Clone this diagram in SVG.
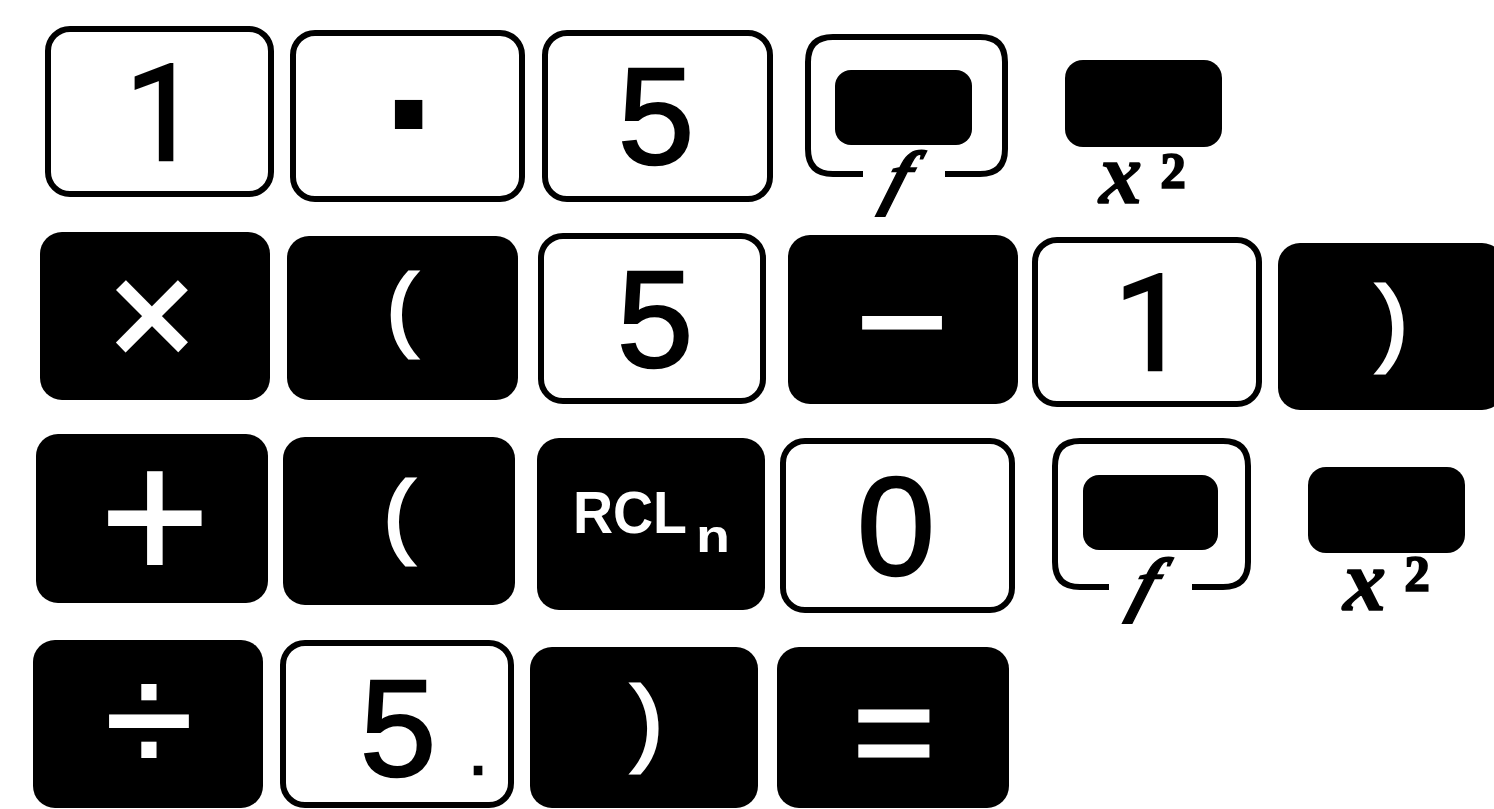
<svg xmlns="http://www.w3.org/2000/svg" width="1494" height="809" viewBox="0 0 1494 809">
<style>
.ok{fill:#fff;stroke:#000;stroke-width:6}
.bk{fill:#000}
.fr{fill:none;stroke:#000;stroke-width:6;stroke-linecap:butt}
.dg{font-family:"Liberation Sans",Arial,sans-serif;font-size:137px;fill:#000;stroke:#000;stroke-width:2.5;text-anchor:middle}
.one{font-family:Roboto,"Liberation Sans",sans-serif;font-size:133px}
.ws{font-family:"Liberation Sans",Arial,sans-serif;fill:#fff;stroke:#fff;stroke-width:2;text-anchor:middle}
.rcl{font-family:"Liberation Sans",Arial,sans-serif;font-weight:bold;fill:#fff}
.fl{font-family:"Liberation Serif","Times New Roman",serif;font-weight:bold;font-style:italic;font-size:72px;fill:#000;stroke:#000;stroke-width:1.5;text-anchor:middle}
.xl{font-family:"Liberation Serif","Times New Roman",serif;font-weight:bold;font-style:italic;font-size:86px;fill:#000;stroke:#000;stroke-width:1.5}
.sup{font-size:86px;font-style:normal}
</style>
<rect width="1494" height="809" fill="#fff"/>

<!-- Row 1 -->
<g id="key-1">
<rect class="ok" x="48" y="29" width="223" height="165" rx="22"/>
<text class="dg one" x="162" y="160">1</text>
</g>
<g id="key-point">
<rect class="ok" x="293" y="33" width="229" height="166" rx="22"/>
<text class="dg" x="414" y="180" style="font-size:195px;font-weight:bold;stroke-width:0">·</text>
</g>
<g id="key-5a">
<rect class="ok" x="545" y="33" width="225" height="166" rx="22"/>
<text class="dg" x="656" y="164">5</text>
</g>
<g id="key-f1">
<path class="fr" d="M863,174 H833 Q808,174 808,149 V62 Q808,37 833,37 H980 Q1005,37 1005,62 V149 Q1005,174 980,174 H945"/>
<rect class="bk" x="835" y="70" width="137" height="75" rx="16"/>
<text class="fl" x="899" y="201" transform="translate(899,181) skewX(-18) translate(-899,-181)">f</text>
</g>
<g id="key-x2a">
<rect class="bk" x="1065" y="60" width="157" height="87" rx="18"/>
<text class="xl" x="1099" y="203">x<tspan class="sup" dx="18" dy="8">²</tspan></text>
</g>

<!-- Row 2 -->
<g id="key-times">
<rect class="bk" x="40" y="232" width="230" height="168" rx="22"/>
<text class="ws" x="152" y="367" style="font-size:152px;stroke-width:3">×</text>
</g>
<g id="key-lp1">
<rect class="bk" x="287" y="236" width="231" height="164" rx="22"/>
<text class="ws" x="402" y="339" style="font-size:93px;stroke-width:3">(</text>
</g>
<g id="key-5b">
<rect class="ok" x="541" y="236" width="222" height="165" rx="22"/>
<text class="dg" x="655" y="367">5</text>
</g>
<g id="key-minus">
<rect class="bk" x="788" y="235" width="230" height="169" rx="22"/>
<text class="ws" x="902" y="376" style="font-size:160px">−</text>
</g>
<g id="key-1b">
<rect class="ok" x="1035" y="240" width="224" height="164" rx="22"/>
<text class="dg one" x="1151" y="370">1</text>
</g>
<g id="key-rp1">
<rect class="bk" x="1278" y="243" width="226" height="167" rx="22"/>
<text class="ws" x="1392" y="353" style="font-size:95px;stroke-width:3">)</text>
</g>

<!-- Row 3 -->
<g id="key-plus">
<rect class="bk" x="36" y="434" width="232" height="169" rx="22"/>
<text class="ws" x="155" y="581" style="font-size:188px">+</text>
</g>
<g id="key-lp2">
<rect class="bk" x="283" y="437" width="232" height="168" rx="22"/>
<text class="ws" x="399" y="546" style="font-size:93px;stroke-width:3">(</text>
</g>
<g id="key-rcl">
<rect class="bk" x="537" y="438" width="228" height="172" rx="22"/>
<text class="rcl" x="573" y="533" style="font-size:60px"><tspan textLength="114" lengthAdjust="spacingAndGlyphs">RCL</tspan><tspan x="696" y="552" style="font-size:46px" textLength="34" lengthAdjust="spacingAndGlyphs">n</tspan></text>
</g>
<g id="key-0">
<rect class="ok" x="783" y="441" width="229" height="169" rx="22"/>
<text class="dg" x="896" y="575" style="font-size:140px">0</text>
</g>
<g id="key-f2">
<path class="fr" d="M1109,587 H1080 Q1055,587 1055,562 V466 Q1055,441 1080,441 H1223 Q1248,441 1248,466 V562 Q1248,587 1223,587 H1192"/>
<rect class="bk" x="1083" y="475" width="135" height="75" rx="16"/>
<text class="fl" x="1146" y="608" transform="translate(1146,588) skewX(-18) translate(-1146,-588)">f</text>
</g>
<g id="key-x2b">
<rect class="bk" x="1308" y="467" width="157" height="86" rx="18"/>
<text class="xl" x="1343" y="610">x<tspan class="sup" dx="18" dy="4">²</tspan></text>
</g>

<!-- Row 4 -->
<g id="key-div">
<rect class="bk" x="33" y="640" width="230" height="168" rx="22"/>
<text class="ws" x="149" y="774" style="font-size:160px">÷</text>
</g>
<g id="key-5c">
<rect class="ok" x="283" y="643" width="228" height="162" rx="22"/>
<text class="dg" x="398" y="776">5<tspan x="478" y="774" style="font-size:65px">.</tspan></text>
</g>
<g id="key-rp2">
<rect class="bk" x="530" y="647" width="228" height="161" rx="22"/>
<text class="ws" x="647" y="753" style="font-size:95px;stroke-width:3">)</text>
</g>
<g id="key-eq">
<rect class="bk" x="777" y="647" width="232" height="161" rx="22"/>
<text class="ws" x="894" y="779" style="font-size:140px;stroke-width:3">=</text>
</g>

<g id="connectors"></g>
</svg>
